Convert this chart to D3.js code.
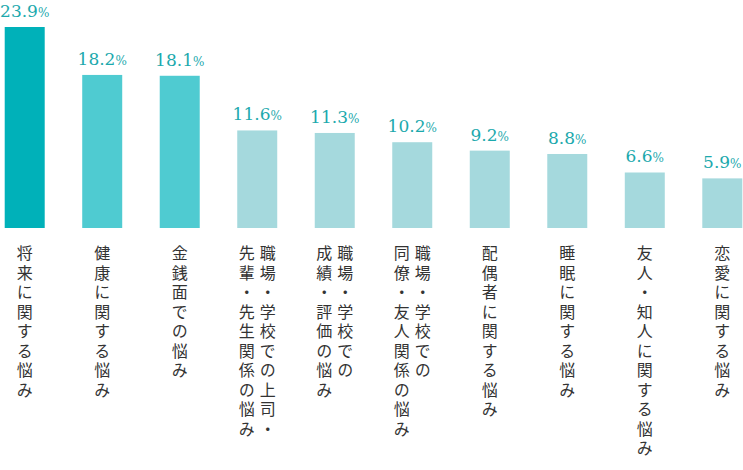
<!DOCTYPE html>
<html lang="ja">
<head>
<meta charset="UTF-8">
<script src="https://d3js.org/d3.v7.min.js"></script>
<style>
  body { margin: 0; background: #fff; }
  .lab { font-family: "Noto Sans CJK JP", sans-serif; font-size: 16px; fill: #333; writing-mode: vertical-rl; letter-spacing: 3.5px; }
</style>
</head>
<body>
<div id="chart"></div>
<script>
const categories = [
  ["将来に関する悩み"],
  ["健康に関する悩み"],
  ["金銭面での悩み"],
  ["職場・学校での上司・", "先輩・先生関係の悩み"],
  ["職場・学校での", "成績・評価の悩み"],
  ["職場・学校での", "同僚・友人関係の悩み"],
  ["配偶者に関する悩み"],
  ["睡眠に関する悩み"],
  ["友人・知人に関する悩み"],
  ["恋愛に関する悩み"]
];
const values = [23.9, 18.2, 18.1, 11.6, 11.3, 10.2, 9.2, 8.8, 6.6, 5.9];
const colors = ["#00b1b9", "#4fcbd1", "#4fcbd1", "#a5d9dd", "#a5d9dd", "#a5d9dd", "#a5d9dd", "#a5d9dd", "#a5d9dd", "#a5d9dd"];

const width = 743, height = 470;
const svg = d3.select("#chart").append("svg").attr("width", width).attr("height", height);

const x = d3.scaleBand().domain(d3.range(values.length)).range([2, 745]).paddingInner(0.484).paddingOuter(0.035);
const y = d3.scaleLinear().domain([0, 23.9]).range([228, 27]);

svg.selectAll("rect").data(values).enter().append("rect")
  .attr("x", (d, i) => x(i))
  .attr("y", d => y(d))
  .attr("width", x.bandwidth())
  .attr("height", d => y(0) - y(d))
  .attr("fill", (d, i) => colors[i]);

const v = svg.selectAll(".val").data(values).enter().append("text")
  .attr("class", "val")
  .attr("font-family", "'DejaVu Serif', 'Liberation Serif', 'Times New Roman', serif")
  .attr("fill", "#1ca9ad")
  .attr("x", (d, i) => x(i) + x.bandwidth() / 2)
  .attr("y", d => y(d) - 10)
  .attr("text-anchor", "middle");
v.append("tspan").attr("font-size", "17px").text(d => d.toFixed(1));
v.append("tspan").attr("font-size", "12px").text("%");

categories.forEach((lines, i) => {
  const cx = x(i) + x.bandwidth() / 2;
  const gap = 21;
  lines.forEach((line, j) => {
    const off = (lines.length - 1) / 2 * gap - j * gap;
    svg.append("text").attr("class", "lab")
      .attr("x", cx + off)
      .attr("y", 245)
      .text(line);
  });
});
</script>
</body>
</html>
